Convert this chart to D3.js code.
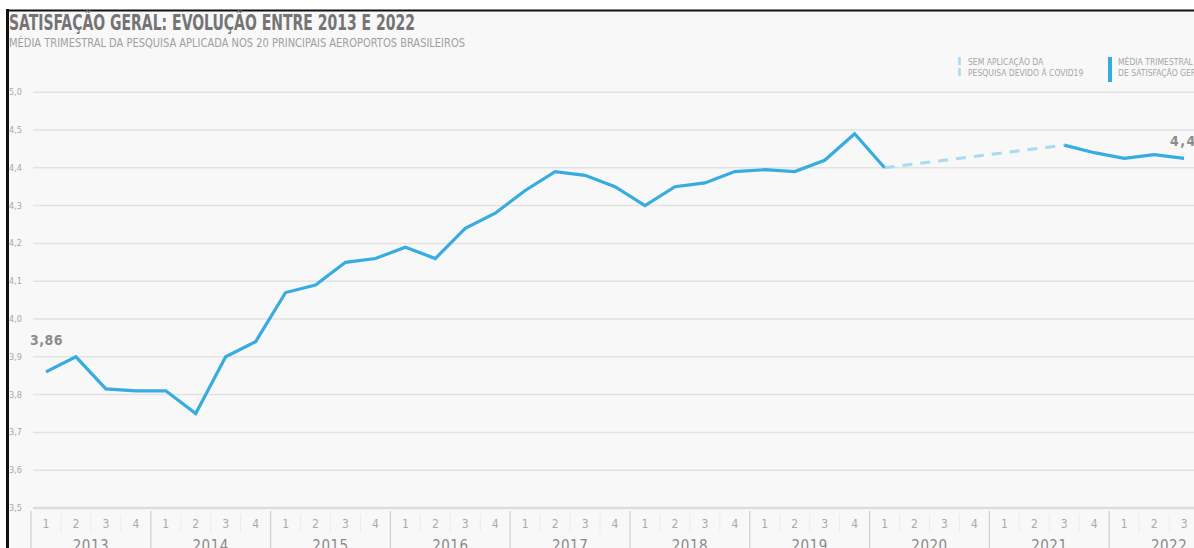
<!DOCTYPE html>
<html><head><meta charset="utf-8">
<script src="https://cdn.jsdelivr.net/npm/d3@7"></script>
<style>
html,body{margin:0;padding:0;background:#fff;}
svg{display:block;}
text{font-family:'Liberation Sans Narrow','DejaVu Sans Condensed','Roboto Condensed',sans-serif;}
</style></head><body>
<svg id="c" width="1194" height="548"></svg>
<script>
const years = ["2013","2014","2015","2016","2017","2018","2019","2020","2021","2022"];
const quarters = ["1","2","3","4"];
// quarterly values (null = no survey, covid)
const values = [
  3.86, 3.90, 3.815, 3.81,
  3.81, 3.75, 3.90, 3.94,
  4.07, 4.09, 4.15, 4.16,
  4.19, 4.16, 4.24, 4.28,
  4.34, 4.39, 4.38, 4.35,
  4.30, 4.35, 4.36, 4.39,
  4.395, 4.39, 4.42, 4.49,
  4.40, null, null, null,
  null, null, 4.46, 4.44,
  4.425, 4.435, 4.425
];
const yTickValues = [3.5,3.6,3.7,3.8,3.9,4.0,4.1,4.2,4.3,4.4,4.5,4.6];
const yTickLabels = ["3,5","3,6","3,7","3,8","3,9","4,0","4,1","4,2","4,3","4,4","4,5","5,0"];
const firstLabel = "3,86";
const lastLabel = "4,43";
const title = "SATISFAÇÃO GERAL: EVOLUÇÃO ENTRE 2013 E 2022";
const subtitle = "MÉDIA TRIMESTRAL DA PESQUISA APLICADA NOS 20 PRINCIPAIS AEROPORTOS  BRASILEIROS";
const legendGap = ["SEM APLICAÇÃO DA","PESQUISA DEVIDO À COVID19"];
const legendMain = ["MÉDIA TRIMESTRAL","DE SATISFAÇÃO GERAL"];

const svg = d3.select("#c");
const W = 1194, H = 548;
const blue = "#36ace0", lightBlue = "#a9dbef";

// frame background
svg.append("rect").attr("x",0).attr("y",0).attr("width",W).attr("height",H).attr("fill","#fff");
svg.append("rect").attr("x",7).attr("y",10).attr("width",W).attr("height",H).attr("fill","#f8f8f8");
svg.append("line").attr("x1",7.5).attr("x2",7.5).attr("y1",9).attr("y2",H).attr("stroke","#111").attr("stroke-width",3);
svg.append("line").attr("x1",6).attr("x2",W).attr("y1",10.5).attr("y2",10.5).attr("stroke","#111").attr("stroke-width",2);

// titles
svg.append("text").attr("x",9).attr("y",30).attr("font-size",22).attr("font-weight","bold")
  .attr("fill","#747474").attr("textLength",406).attr("lengthAdjust","spacingAndGlyphs").text(title);
svg.append("text").attr("x",9).attr("y",47).attr("font-size",12).attr("fill","#a0a0a0")
  .attr("textLength",456).attr("lengthAdjust","spacingAndGlyphs").text(subtitle);

const cats = [];
years.forEach(y => quarters.forEach(q => cats.push(y+"-"+q)));
const x = d3.scaleBand().domain(cats).range([31, 31 + cats.length*29.95]).padding(0);
const y = d3.scaleLinear().domain([3.5,4.5]).range([508,130]);
const cx = i => x(cats[i]) + x.bandwidth()/2;

// gridlines + y labels
const g = svg.append("g");
yTickValues.forEach((v,i) => {
  g.append("line").attr("x1",33).attr("x2",W).attr("y1",y(v)).attr("y2",y(v))
    .attr("stroke", i===0 ? "#dcdcdc" : "#e2e2e2").attr("stroke-width", i===0 ? 2.5 : 1.5);
  g.append("text").attr("x",9).attr("y",y(v)+3).attr("font-size",9).attr("fill","#a8a8a8").text(yTickLabels[i]);
});

// x axis: quarter and year rows
const ax = svg.append("g");
cats.forEach((c,i) => {
  const qi = i % 4;
  const xs = x(c);
  if (qi === 0) {
    ax.append("line").attr("x1",xs).attr("x2",xs).attr("y1",511).attr("y2",548).attr("stroke","#d2d2d2").attr("stroke-width",1.3);
  } else {
    ax.append("line").attr("x1",xs).attr("x2",xs).attr("y1",514).attr("y2",532).attr("stroke","#ececec").attr("stroke-width",1);
  }
  ax.append("text").attr("x",xs + x.bandwidth()/2).attr("y",528).attr("text-anchor","middle")
    .attr("font-size",12).attr("fill","#aaa").text(quarters[qi]);
});
years.forEach((yr,k) => {
  const xs = x(yr+"-1"), xe = x(yr+"-4") + x.bandwidth();
  ax.append("text").attr("x",(xs+xe)/2).attr("y",551).attr("text-anchor","middle")
    .attr("font-size",15).attr("fill","#8a8a8a").attr("letter-spacing",0.5).text(yr);
});

// lines
const pts = values.map((v,i) => ({i, v}));
const line = d3.line().defined(d => d.v !== null).x(d => cx(d.i)).y(d => y(d.v));
// dashed gap segment between last value before gap and first after
const before = pts.filter((d,i) => d.v !== null && i < values.length-1 && values[i+1] === null)[0];
const after = pts.filter((d,i) => d.v !== null && i > 0 && values[i-1] === null)[0];
svg.append("path").datum([before, after]).attr("d", d3.line().x(d => cx(d.i)).y(d => y(d.v)))
  .attr("fill","none").attr("stroke",lightBlue).attr("stroke-width",3).attr("stroke-dasharray","10,8");
svg.append("path").datum(pts).attr("d", line).attr("fill","none").attr("stroke",blue)
  .attr("stroke-width",3.2).attr("stroke-linejoin","miter").attr("stroke-linecap","butt");

// value labels
svg.append("text").attr("x",30).attr("y",345).attr("font-size",14).attr("font-weight","bold")
  .attr("fill","#8c8c8c").attr("letter-spacing",0.5).text(firstLabel);
svg.append("text").attr("x",1170).attr("y",146).attr("font-size",14).attr("font-weight","bold")
  .attr("fill","#8c8c8c").attr("letter-spacing",1.5).text(lastLabel);

// legend
const lg = svg.append("g");
lg.append("line").attr("x1",959.5).attr("x2",959.5).attr("y1",57).attr("y2",65).attr("stroke",lightBlue).attr("stroke-width",2.5);
lg.append("line").attr("x1",959.5).attr("x2",959.5).attr("y1",68).attr("y2",76).attr("stroke",lightBlue).attr("stroke-width",2.5);
legendGap.forEach((t,i) => lg.append("text").attr("x",968).attr("y",65+i*11).attr("font-size",8.5).attr("fill","#a6a6a6").text(t));
lg.append("line").attr("x1",1110).attr("x2",1110).attr("y1",57).attr("y2",82).attr("stroke",blue).attr("stroke-width",4);
legendMain.forEach((t,i) => lg.append("text").attr("x",1118).attr("y",65+i*11).attr("font-size",8.5).attr("fill","#a6a6a6").text(t));
</script>
</body></html>
